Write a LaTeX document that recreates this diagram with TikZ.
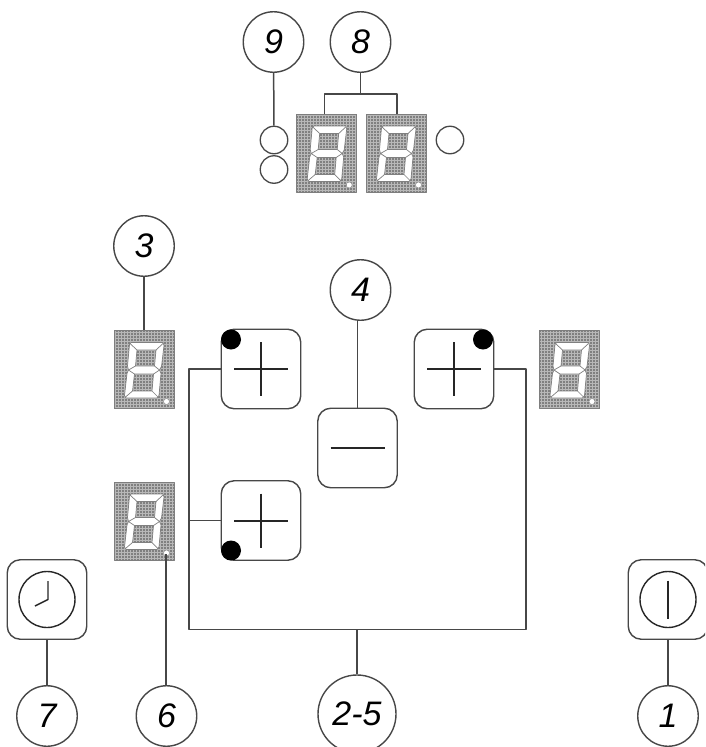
\documentclass[tikz,border=0pt]{standalone}
\usepackage{fontspec}
\setmainfont{Liberation Sans}
\usetikzlibrary{calc}
\definecolor{ink}{gray}{0.28}
\definecolor{panel}{gray}{0.5}
\definecolor{mesh}{gray}{0.72}
\tikzset{
  wire/.style={draw=ink,line width=1.5pt},
  callout/.style={circle,draw=ink,line width=1.4pt,fill=white,minimum size=60.5pt,inner sep=0pt,font=\fontsize{34}{34}\selectfont\itshape},
  lamp/.style={circle,draw=ink,line width=1.3pt,fill=white,minimum size=27.5pt,inner sep=0pt},
  keybox/.style={draw=ink,line width=1.4pt,fill=white,rounded corners=13pt,minimum size=79.5pt,inner sep=0pt},
  seg/.style={fill=white,draw=black!50,line width=0.7pt,even odd rule},
  seam/.style={draw=black!50,line width=0.7pt},
  panelbox/.style={minimum width=60pt,minimum height=78pt,inner sep=0pt},
  stroke/.style={draw=black!85,line width=2pt},
  thinstroke/.style={draw=black!85,line width=1.4pt},
  blackdot/.style={fill=black,draw=none}
}
\newcommand{\digitpanel}[3]{% name, x, y of the centre
  \node[panelbox] (#1) at (#2,#3) {};
  \begin{scope}[shift={(#2-30,#3-39)}]
    \fill[panel] (0,0) rectangle (60,78);
    \foreach \gx in {1.5,4.5,...,59}{\draw[mesh,line width=0.8pt] (\gx,0) -- (\gx,78);}
    \foreach \gy in {1.5,4.5,...,77}{\draw[mesh,line width=0.8pt] (0,\gy) -- (60,\gy);}
    \draw[ink!70,line width=0.7pt] (0,0) rectangle (60,78);
    % white figure with its two windows
    \path[seg] (17,12) -- (49,12) -- (50,15) -- (47.5,36) -- (45.5,39.5) -- (47,43) -- (45,65) -- (43,67.5) -- (12,67.5) -- (10.5,65) -- (13,43) -- (14.5,39.5) -- (13.5,35.5) -- (15.5,14) -- cycle
      (23,19.5) -- (42,19.5) -- (40.5,35.5) -- (21.5,35.5) -- cycle
      (20.5,43.5) -- (39.5,43.5) -- (38,60.5) -- (18.5,60.5) -- cycle;
    % seams between the segments
    \draw[seam] (16,13) -- (23,19.5) (49,13) -- (42,19.5)
      (14.5,39.5) -- (21.5,35.5) (45.5,39.5) -- (40.5,35.5)
      (14.5,39.5) -- (20.5,43.5) (45.5,39.5) -- (39.5,43.5)
      (11.5,66.5) -- (18.5,60.5) (44,66.5) -- (38,60.5);
    % decimal point
    \path[fill=white,draw=black!45,line width=0.5pt] (52.5,71) circle (3);
  \end{scope}
}
\begin{document}
\begin{tikzpicture}[x=1pt,y=-1pt,line join=round]
\useasboundingbox (0,0) rectangle (705,747);
\fill[white] (0,0) rectangle (705,747);
\begin{scope}
\clip (0,0) rectangle (705,747);

% displays
\digitpanel{dA}{326.7}{153}
\digitpanel{dB}{396}{153}
\digitpanel{dC}{144}{369.5}
\digitpanel{dD}{569.5}{369.5}
\digitpanel{dE}{144}{521}

% lamps
\node[lamp] (lA) at (274,140) {};
\node[lamp] (lB) at (274,169.5) {};
\node[lamp] (lC) at (450,140) {};

% keys
\node[keybox] (kA) at (261,369) {};
\node[keybox] (kB) at (454,369) {};
\node[keybox] (kC) at (357.5,448) {};
\node[keybox] (kD) at (261,520.5) {};
\node[keybox] (kE) at (47,599.5) {};
\node[keybox] (kF) at (668,599.5) {};

% callouts
\node[callout] (c9) at (273.5,42) {9};
\node[callout] (c8) at (360.5,42) {8};
\node[callout] (c3) at (144,246) {3};
\node[callout] (c4) at (360.5,290) {4};
\node[callout] (c7) at (47,716) {7};
\node[callout] (c6) at (166.5,716) {6};
\node[callout,minimum size=78pt] (c25) at (357,714) {2-5};
\node[callout] (c1) at (668,716) {1};

% connectors
\draw[wire] (c9) -- (lA);
\draw[wire] (c8.south) -- ++(0,21) coordinate (j8);
\coordinate (tA) at ($(dA.north)+(-2,0)$);
\coordinate (tB) at ($(dB.north)+(1,0)$);
\draw[wire] (tA) |- (j8) -| (tB);
\draw[wire] (c3) -- (dC);
\draw[wire] (kC.north) -- (kC.north |- c4.south);
\coordinate (dp) at (166.2,554);
\draw[wire] (c6.north) -- (dp |- c6.north) -- (dp);
\draw[wire] (kE) -- (c7);
\draw[wire] (kF) -- (c1);
\coordinate (fl) at (189,629.5);
\coordinate (fr) at (526,629.5);
\draw[wire] (kA.west) -| (fl) -- (fr) |- (kB.east);
\draw[wire] (kD.west) -- (fl |- kD.west);
\draw[wire] (c25.north) -- (c25.north |- fl);

% key glyphs
\foreach \k in {kA,kB,kD}{
  \draw[stroke] ($(\k)+(-27,0)$) -- ++(54,0) ($(\k)+(0,-27)$) -- ++(0,54);
}
\draw[stroke] ($(kC)+(-27,0)$) -- ++(54,0);
\fill[blackdot] (231,339.5) circle (10);
\fill[blackdot] (483,339.5) circle (10);
\fill[blackdot] (231,550.5) circle (10);

% clock face
\draw[thinstroke] (kE) circle (28);
\draw[thinstroke] (48,581) -- (48,599.5) -- (35,606);
% power face
\draw[thinstroke] (kF) circle (28);
\draw[thinstroke] (668,580.5) -- (668,619);
\end{scope}
\end{tikzpicture}
\end{document}
